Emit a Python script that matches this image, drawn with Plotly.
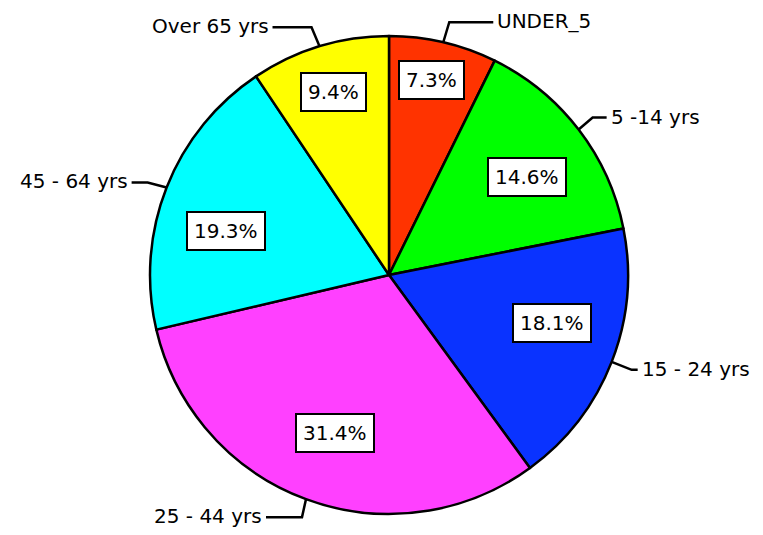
import math
import plotly.graph_objects as go

# ---- data ----
categories = ["UNDER_5", "5 -14 yrs", "15 - 24 yrs", "25 - 44 yrs", "45 - 64 yrs", "Over 65 yrs"]
values = [7.3, 14.6, 18.1, 31.4, 19.3, 9.4]

# ---- style ----
colors = ["#FF3300", "#00FF00", "#0A33FF", "#FF40FF", "#00FFFF", "#FFFF00"]
PAGE_MARGIN = 8                     # browser default body margin
W, H = 763 - 2 * PAGE_MARGIN, 535 - 2 * PAGE_MARGIN
CX, CY, R = 389 - PAGE_MARGIN, 275 - PAGE_MARGIN, 239   # pie centre / radius in px
box_radius = [0.837, 0.708, 0.711, 0.697, 0.706, 0.80]   # fraction of R for % boxes
box_angle_shift = [-0.8, 2.2, -5.0, -1.4, -6.2, 0.0]     # degrees from slice mid-angle
# leader elbow: (dx, dy) from edge point to elbow, then horizontal length
leader = [(6, -20, 44), (14, -12, 14), (20, 8, 6), (-4, 18, -36), (-19, -5, -16), (-8, -19, -39)]
FONT = "DejaVu Sans"

def px_to_paper(x, y):
    return x / W, 1 - y / H

fig = go.Figure(go.Pie(
    labels=categories, values=values, sort=False, direction="clockwise", rotation=0,
    marker=dict(colors=colors, line=dict(color="black", width=2.5)),
    textinfo="none", hoverinfo="label+percent", showlegend=False,
    domain=dict(x=[(CX - R) / W, (CX + R) / W], y=[1 - (CY + R) / H, 1 - (CY - R) / H]),
))

total = sum(values)
cum = 0.0
annotations = []
shapes = []
for i, (cat, v) in enumerate(zip(categories, values)):
    mid = (cum + v / 2) / total * 2 * math.pi
    cum += v
    sx, sy = math.sin(mid), -math.cos(mid)
    # percent box
    ba = mid + math.radians(box_angle_shift[i])
    bx = CX + box_radius[i] * R * math.sin(ba)
    by = CY - box_radius[i] * R * math.cos(ba)
    px, py = px_to_paper(bx, by)
    annotations.append(dict(
        x=px, y=py, xref="paper", yref="paper", showarrow=False,
        xanchor="center", yanchor="middle",
        text=f"{v:.1f}%", font=dict(family=FONT, size=20, color="black"),
        bgcolor="white", bordercolor="black", borderwidth=2, borderpad=6,
    ))
    # leader line
    ex, ey = CX + R * sx, CY + R * sy
    dx, dy, hl = leader[i]
    kx, ky = ex + dx, ey + dy
    tx, ty = kx + hl, ky
    p = [px_to_paper(*pt) for pt in [(ex, ey), (kx, ky), (tx, ty)]]
    shapes.append(dict(
        type="path", xref="paper", yref="paper",
        path=f"M {p[0][0]},{p[0][1]} L {p[1][0]},{p[1][1]} L {p[2][0]},{p[2][1]}",
        line=dict(color="black", width=2.5),
    ))
    lx, ly = px_to_paper(tx + (2 if hl > 0 else -2), ty - 1)
    annotations.append(dict(
        x=lx, y=ly, xref="paper", yref="paper", showarrow=False,
        xanchor="left" if hl > 0 else "right", yanchor="middle",
        text=cat, font=dict(family=FONT, size=20, color="black"),
    ))

fig.update_layout(
    width=W, height=H, margin=dict(l=0, r=0, t=0, b=0),
    paper_bgcolor="white", plot_bgcolor="white",
    annotations=annotations, shapes=shapes,
)
fig.write_html("out.html")
